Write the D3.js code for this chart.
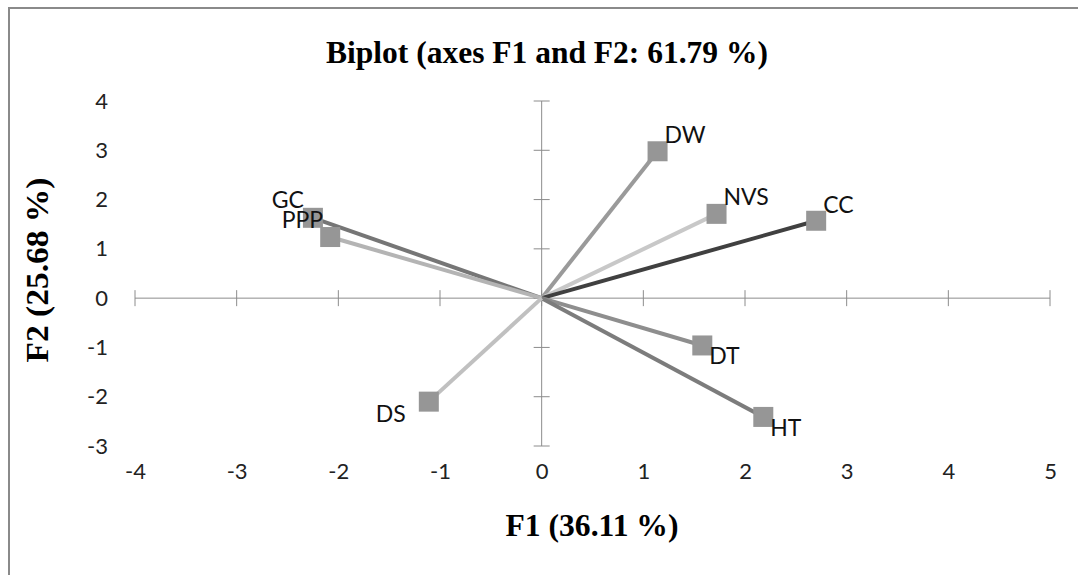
<!DOCTYPE html>
<html>
<head>
<meta charset="utf-8">
<script src="https://cdn.jsdelivr.net/npm/d3@7"></script>
<style>
  html, body { margin: 0; padding: 0; background: #fff; }
</style>
</head>
<body>
<div id="chart"></div>
<script>
// ── Datos del biplot ───────────────────────────────────────────────────
const variables = ["DW", "NVS", "CC", "GC", "PPP", "DT", "HT", "DS"];
const f1Values = [1.14, 1.72, 2.70, -2.25, -2.08, 1.58, 2.18, -1.11];
const f2Values = [2.98, 1.71, 1.57, 1.63, 1.24, -0.96, -2.41, -2.10];

const xTicks = [-4, -3, -2, -1, 0, 1, 2, 3, 4, 5];
const yTicks = [-3, -2, -1, 0, 1, 2, 3, 4];

const title = "Biplot (axes F1 and F2: 61.79 %)";
const xTitle = "F1 (36.11 %)";
const yTitle = "F2 (25.68 %)";

// ── Estilos por variable (color de línea y posición de etiqueta) ──────
const lineColor = {
  DW: "#9a9a9a", NVS: "#c8c8c8", CC: "#404040", GC: "#767676",
  PPP: "#b4b4b4", DT: "#8e8e8e", HT: "#7c7c7c", DS: "#c0c0c0"
};
const labelPos = {
  DW: [7, -8, "start"], NVS: [7, -9, "start"], CC: [7, -8, "start"],
  GC: [-9, -10, "end"], PPP: [-7, -9, "end"], DT: [7, 19, "start"],
  HT: [7, 19, "start"], DS: [-23, 20, "end"]
};

const puntos = variables.map((v, i) => ({ name: v, f1: f1Values[i], f2: f2Values[i] }));

// ── Lienzo ─────────────────────────────────────────────────────────────
const width = 1078;
const height = 575;

const svg = d3.select("#chart").append("svg")
  .attr("width", width)
  .attr("height", height)
  .attr("viewBox", [0, 0, width, height]);

svg.append("rect")
  .attr("x", 9).attr("y", 8)
  .attr("width", width + 20).attr("height", height + 20)
  .attr("fill", "#fff")
  .attr("stroke", "#8a8a8a")
  .attr("stroke-width", 2);

const x = d3.scaleLinear().domain([-4, 5]).range([135, 1050]);
const y = d3.scaleLinear().domain([-3, 4]).range([446, 101]);

const axisColor = "#8c8c8c";
const tickFont = "Lato, 'Open Sans', sans-serif";

// ── Ejes que cruzan en el origen ───────────────────────────────────────
const gAxes = svg.append("g");
gAxes.append("line")
  .attr("x1", x(-4)).attr("x2", x(5))
  .attr("y1", y(0)).attr("y2", y(0))
  .attr("stroke", axisColor);
gAxes.append("line")
  .attr("x1", x(0)).attr("x2", x(0))
  .attr("y1", y(-3)).attr("y2", y(4))
  .attr("stroke", axisColor);

gAxes.selectAll(".xt")
  .data(xTicks)
  .join("line")
  .attr("x1", d => x(d)).attr("x2", d => x(d))
  .attr("y1", y(0) - 8).attr("y2", y(0) + 8)
  .attr("stroke", axisColor);
gAxes.selectAll(".yt")
  .data(yTicks)
  .join("line")
  .attr("x1", x(0) - 8).attr("x2", x(0) + 8)
  .attr("y1", d => y(d)).attr("y2", d => y(d))
  .attr("stroke", axisColor);

// ── Etiquetas de ticks en el borde del área ────────────────────────────
const fmt = d => String(d);

const xLabels = svg.append("g")
  .attr("transform", `translate(0,${y(-3)})`)
  .call(d3.axisBottom(x).tickValues(xTicks).tickSize(0).tickPadding(0).tickFormat(fmt));
xLabels.select(".domain").remove();
xLabels.selectAll("text")
  .attr("y", 17)
  .attr("font-family", tickFont)
  .attr("font-size", 22)
  .attr("fill", "#222");

const yLabels = svg.append("g")
  .attr("transform", `translate(108,0)`)
  .call(d3.axisLeft(y).tickValues(yTicks).tickSize(0).tickPadding(0).tickFormat(fmt));
yLabels.select(".domain").remove();
yLabels.selectAll("text")
  .attr("font-family", tickFont)
  .attr("font-size", 22)
  .attr("fill", "#222");

// ── Vectores ───────────────────────────────────────────────────────────
svg.append("g")
  .selectAll("line")
  .data(puntos)
  .join("line")
  .attr("x1", x(0)).attr("y1", y(0))
  .attr("x2", d => x(d.f1)).attr("y2", d => y(d.f2))
  .attr("stroke", d => lineColor[d.name])
  .attr("stroke-width", 4);

svg.append("g")
  .selectAll("rect")
  .data(puntos)
  .join("rect")
  .attr("x", d => x(d.f1) - 10)
  .attr("y", d => y(d.f2) - 10)
  .attr("width", 20)
  .attr("height", 20)
  .attr("fill", "#969696");

svg.append("g")
  .selectAll("text")
  .data(puntos)
  .join("text")
  .attr("x", d => x(d.f1) + labelPos[d.name][0])
  .attr("y", d => y(d.f2) + labelPos[d.name][1])
  .attr("text-anchor", d => labelPos[d.name][2])
  .attr("font-family", tickFont)
  .attr("font-size", 23)
  .attr("fill", "#111")
  .text(d => d.name);

// ── Títulos ────────────────────────────────────────────────────────────
const serif = "'Liberation Serif', 'Times New Roman', serif";

svg.append("text")
  .attr("x", 547).attr("y", 63)
  .attr("text-anchor", "middle")
  .attr("font-family", serif)
  .attr("font-weight", "bold")
  .attr("font-size", 32)
  .attr("textLength", 442)
  .attr("lengthAdjust", "spacingAndGlyphs")
  .text(title);

svg.append("text")
  .attr("x", 592).attr("y", 536)
  .attr("text-anchor", "middle")
  .attr("font-family", serif)
  .attr("font-weight", "bold")
  .attr("font-size", 31)
  .attr("textLength", 173)
  .attr("lengthAdjust", "spacingAndGlyphs")
  .text(xTitle);

svg.append("text")
  .attr("transform", "translate(48,270) rotate(-90)")
  .attr("text-anchor", "middle")
  .attr("font-family", serif)
  .attr("font-weight", "bold")
  .attr("font-size", 31)
  .attr("textLength", 185)
  .attr("lengthAdjust", "spacingAndGlyphs")
  .text(yTitle);
</script>
</body>
</html>
